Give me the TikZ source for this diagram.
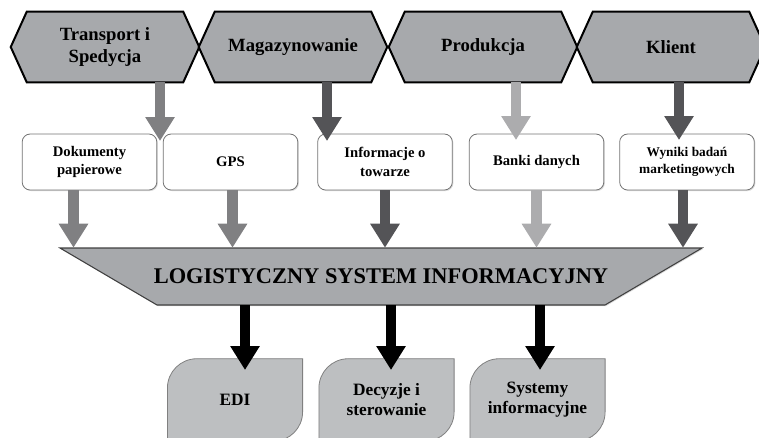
\documentclass[tikz,border=0pt]{standalone}
\usepackage{fontspec}
\setmainfont{Liberation Serif}
\usetikzlibrary{arrows.meta,backgrounds,shadows}

\definecolor{hexgray}{RGB}{167,169,172}
\definecolor{leafgray}{RGB}{189,191,193}
\definecolor{arrowmid}{RGB}{128,128,130}
\definecolor{arrowdark}{RGB}{84,84,87}
\definecolor{arrowlight}{RGB}{172,172,174}

\tikzset{
  hexnode/.style={minimum width=117pt, minimum height=52.5pt, inner sep=0pt,
    align=center, font=\fontsize{14}{17}\selectfont\bfseries},
  hexline/.style={draw=black, line width=1.5pt, fill=hexgray},
  infobox/.style={draw=black!55, fill=white, rounded corners=6pt, line width=0.6pt,
    minimum width=101pt, minimum height=42pt, inner sep=1pt, align=center,
    drop shadow={opacity=0.3, shadow xshift=0.8pt, shadow yshift=-0.8pt},
    font=\fontsize{11}{14}\selectfont\bfseries},
  banner/.style={minimum height=42.75pt, inner sep=0pt,
    font=\fontsize{16.8}{20}\selectfont\bfseries},
  leafnode/.style={minimum width=101pt, minimum height=61.5pt, inner sep=0pt,
    align=center, font=\fontsize{13}{15}\selectfont\bfseries},
  leafline/.style={draw=black!50, line width=0.6pt, fill=leafgray},
  blockarrow/.style={line width=8pt, -{Triangle[width=21pt,length=18pt]}},
}

\begin{document}
\begin{tikzpicture}[x=0.75pt, y=-0.75pt]
  \useasboundingbox (0,0) rectangle (759,437);

  % top row
  \node[hexnode] (transport) at (105,47) {Transport i\\Spedycja};
  \node[hexnode] (magazyn) at (293,47) {Magazynowanie};
  \node[hexnode] (produkcja) at (483,47) {Produkcja};
  \node[hexnode] (klient) at (671,47) {Klient};

  % boxes
  \node[infobox] (dokumenty) at (89.5,162) {Dokumenty\\papierowe};
  \node[infobox] (gps) at (230.5,162) {GPS};
  \node[infobox] (towar) at (385,162) {Informacje o\\towarze};
  \node[infobox] (banki) at (536.5,162) {Banki danych};
  \node[infobox, font=\fontsize{10}{13}\selectfont\bfseries] (wyniki) at (687,162) {Wyniki badań\\marketingowych};

  \node[banner] (lsi) at (381,276.5) {LOGISTYCZNY SYSTEM INFORMACYJNY};

  % outputs
  \node[leafnode] (edi) at (235,400) {EDI};
  \node[leafnode] (decyzje) at (386.5,400) {Decyzje i\\sterowanie};
  \node[leafnode] (systemy) at (537.5,400) {Systemy\\informacyjne};

  \begin{scope}[on background layer]
    \foreach \n in {transport,magazyn,produkcja,klient}
      \draw[hexline] (\n.north west) -- (\n.north east) -- ([xshift=12pt]\n.east)
        -- (\n.south east) -- (\n.south west) -- ([xshift=-12pt]\n.west) -- cycle;
    \draw[draw=black!75, line width=0.8pt, fill=hexgray,
      drop shadow={opacity=0.3, shadow xshift=0.8pt, shadow yshift=-0.8pt}]
      ([shift={(-321,-28.5)}]lsi.center) -- ([shift={(321,-28.5)}]lsi.center)
      -- ([shift={(224,28.5)}]lsi.center) -- ([shift={(-224,28.5)}]lsi.center) -- cycle;
    \foreach \n in {edi,decyzje,systemy}
      \draw[leafline] (\n.south west) [rounded corners=22pt] -- (\n.north west)
        [sharp corners] -- (\n.north east) [rounded corners=22pt] -- (\n.south east)
        [sharp corners] -- cycle;
  \end{scope}

  % arrows into the boxes
  \coordinate (t1) at (160,141);
  \coordinate (t2) at (327,141);
  \coordinate (t3) at (516,140);
  \coordinate (t4) at (679,140);
  \draw[blockarrow, arrowmid] (transport.south -| t1) -- (t1);
  \draw[blockarrow, arrowdark] (magazyn.south -| t2) -- (t2);
  \draw[blockarrow, arrowlight] (produkcja.south -| t3) -- (t3);
  \draw[blockarrow, arrowdark] (klient.south -| t4) -- (t4);

  % arrows into the system
  \draw[blockarrow, arrowmid] ([xshift=-12pt]dokumenty.south) -- ([xshift=-12pt]dokumenty.south |- lsi.north);
  \draw[blockarrow, arrowmid] ([xshift=1.5pt]gps.south) -- ([xshift=1.5pt]gps.south |- lsi.north);
  \draw[blockarrow, arrowdark] (towar.south) -- (towar.south |- lsi.north);
  \draw[blockarrow, arrowlight] (banki.south) -- (banki.south |- lsi.north);
  \draw[blockarrow, arrowdark] ([xshift=-3pt]wyniki.south) -- ([xshift=-3pt]wyniki.south |- lsi.north);

  % arrows out of the system
  \coordinate (o1) at (245,370);
  \coordinate (o2) at (391,370);
  \coordinate (o3) at (540,370);
  \foreach \o in {o1,o2,o3}
    \draw[blockarrow, black] (lsi.south -| \o) -- (\o);
\end{tikzpicture}
\end{document}
